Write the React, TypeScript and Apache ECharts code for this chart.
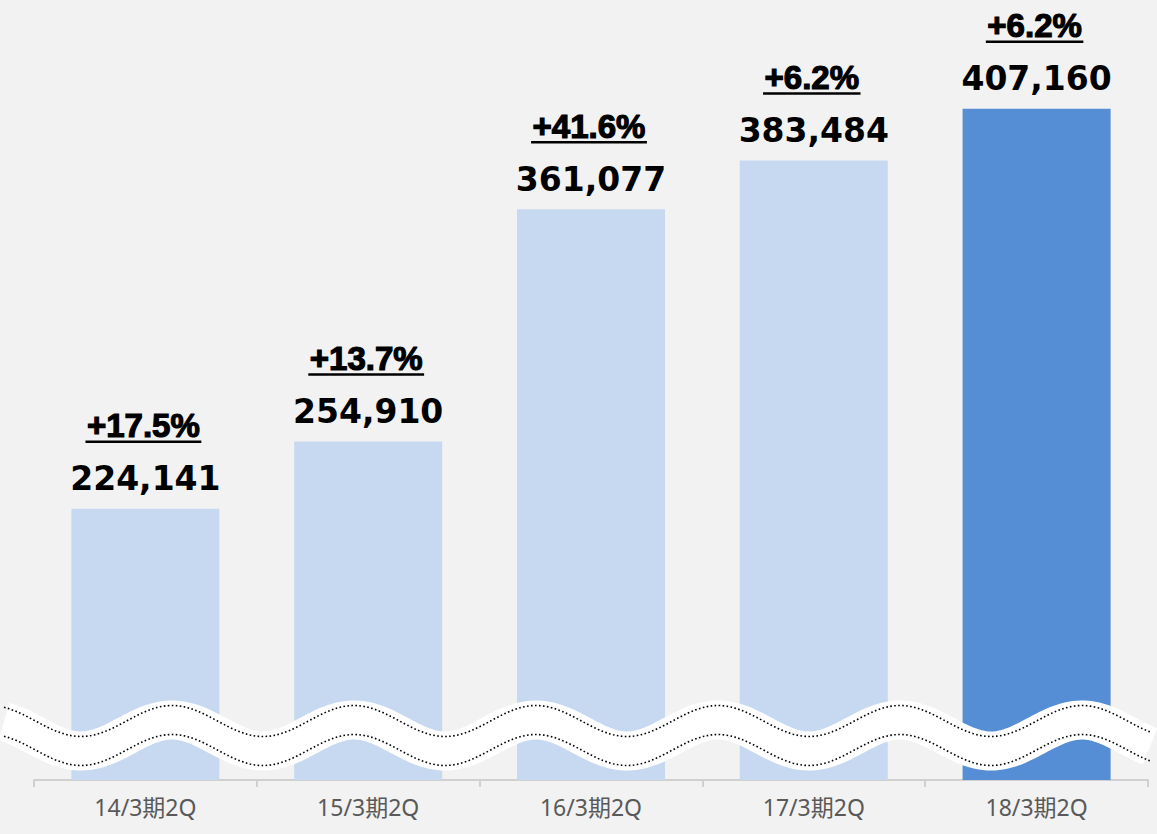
import React, { useEffect, useRef } from "react";
import * as echarts from "echarts";

const categories = ["14/3期2Q", "15/3期2Q", "16/3期2Q", "17/3期2Q", "18/3期2Q"];
const values = [224141, 254910, 361077, 383484, 407160];
const growth = ["+17.5%", "+13.7%", "+41.6%", "+6.2%", "+6.2%"];
const yMin = 100000;
const yMax = 450000;

const LIGHT = "#c6d9f1";
const DARK = "#558ed5";
const PCT_FONT = 'bold 33px "Liberation Sans", Arial, sans-serif';
const VAL_FONT = 'bold 33px "DejaVu Sans", Verdana, sans-serif';

function measure(text: string, font: string): number {
  const c = document.createElement("canvas").getContext("2d");
  if (!c) return text.length * 18;
  c.font = font;
  return c.measureText(text).width;
}

function wavePoints(offset: number): number[][] {
  const pts: number[][] = [];
  for (let x = 4; x <= 1152; x += 3) {
    const y = 721 - 15.5 * Math.cos((2 * Math.PI * (x - 172)) / 182) + offset;
    pts.push([x, y]);
  }
  return pts;
}

export default function App() {
  const ref = useRef<HTMLDivElement>(null);
  useEffect(() => {
    document.body.style.margin = "0";
    document.body.style.background = "#f2f2f2";
    if (!ref.current) return;
    const chart = echarts.init(ref.current, undefined, { renderer: "svg" });
    chart.setOption({
      animation: false,
      backgroundColor: "#f2f2f2",
      grid: { left: 34, right: 9, top: 15, bottom: 54, containLabel: false },
      xAxis: {
        type: "category",
        data: categories,
        axisLine: { lineStyle: { color: "#d0d0d0", width: 2 } },
        axisTick: { show: true, length: 7, lineStyle: { color: "#d0d0d0", width: 2 } },
        axisLabel: {
          color: "#595959",
          fontSize: 23,
          fontFamily: "'Noto Sans', 'Noto Sans CJK JP', sans-serif",
          margin: 15,
        },
      },
      yAxis: {
        type: "value",
        min: yMin,
        max: yMax,
        show: false,
        splitLine: { show: false },
      },
      series: [
        {
          type: "bar",
          data: values,
          barWidth: 148,
          itemStyle: {
            color: (p: any) => (p.dataIndex === values.length - 1 ? DARK : LIGHT),
          },
          z: 2,
        },
        {
          type: "custom",
          data: values.map((v, i) => [i, v]),
          z: 5,
          renderItem: (params: any, api: any) => {
            const pt = api.coord([api.value(0), api.value(1)]);
            const pct = growth[params.dataIndex];
            const w = measure(pct, PCT_FONT) + 3;
            return {
              type: "group",
              children: [
                {
                  type: "text",
                  style: {
                    text: api.value(1).toLocaleString("en-US"),
                    x: pt[0],
                    y: pt[1] - 30,
                    textAlign: "center",
                    textVerticalAlign: "middle",
                    font: VAL_FONT,
                    fill: "#000",
                  },
                },
                {
                  type: "text",
                  style: {
                    text: pct,
                    x: pt[0] - 2,
                    y: pt[1] - 83,
                    textAlign: "center",
                    textVerticalAlign: "middle",
                    font: PCT_FONT,
                    fill: "#000",
                    stroke: "#000",
                    lineWidth: 1.2,
                  },
                },
                {
                  type: "line",
                  shape: { x1: pt[0] - 2 - w / 2, y1: pt[1] - 67, x2: pt[0] - 2 + w / 2, y2: pt[1] - 67 },
                  style: { stroke: "#000", lineWidth: 2.5 },
                },
              ],
            };
          },
        },
      ],
      graphic: [
        {
          type: "polyline",
          z: 100,
          shape: { points: wavePoints(14.5) },
          style: { stroke: "#ffffff", lineWidth: 39, fill: null, lineCap: "butt" },
        },
        {
          type: "polyline",
          z: 101,
          shape: { points: wavePoints(0) },
          style: { stroke: "#000", lineWidth: 1.6, lineDash: [1.6, 2.4], fill: null },
        },
        {
          type: "polyline",
          z: 101,
          shape: { points: wavePoints(29) },
          style: { stroke: "#000", lineWidth: 1.6, lineDash: [1.6, 2.4], fill: null },
        },
      ],
    });
    return () => chart.dispose();
  }, []);
  return <div ref={ref} style={{ width: 1157, height: 834 }} />;
}
